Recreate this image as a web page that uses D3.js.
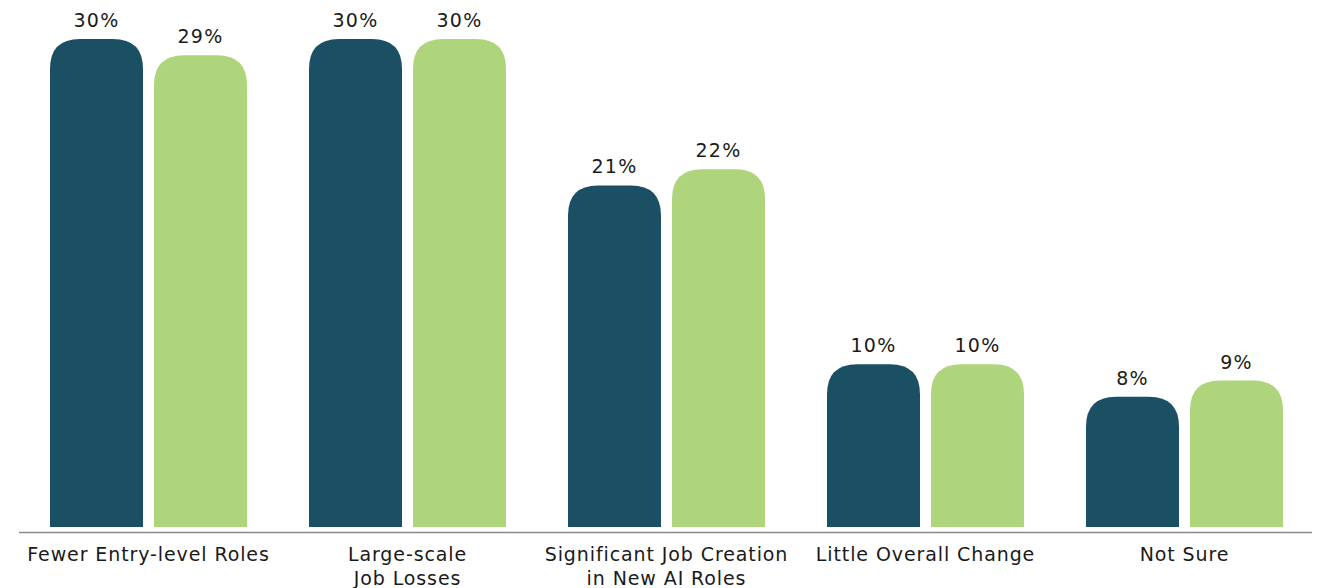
<!DOCTYPE html>
<html><head><meta charset="utf-8">
<script src="https://cdn.jsdelivr.net/npm/d3@7/dist/d3.min.js"></script>
<style>
html,body{margin:0;padding:0;background:#fff;}
svg{display:block;}
text{font-family:"DejaVu Sans",sans-serif;fill:#1a1a1a;}
</style></head>
<body>
<svg id="chart" width="1321" height="588"></svg>
<script>
const categories = ["Fewer Entry-level Roles", "Large-scale\nJob Losses", "Significant Job Creation\nin New AI Roles", "Little Overall Change", "Not Sure"];
const seriesNames = ["Series 1", "Series 2"];
const series1 = [30, 30, 21, 10, 8];
const series2 = [29, 30, 22, 10, 9];
const colors = ["#1b5064", "#aed47c"];

const svg = d3.select("#chart");
const x0 = d3.scaleBand().domain(categories).range([19, 1314]).paddingInner(0).paddingOuter(0);
const x1 = d3.scaleBand().domain(seriesNames).range([31, 228]).paddingInner(0.1058).paddingOuter(0);
const y = d3.scaleLinear().domain([0, 30]).range([527, 39]);

const data = categories.map((c, i) => ({cat: c, vals: [series1[i], series2[i]]}));

function roundedTop(x, yTop, w, yBot, r) {
  r = Math.min(r, w / 2, yBot - yTop);
  return `M${x},${yBot}V${yTop + r}Q${x},${yTop} ${x + r},${yTop}H${x + w - r}Q${x + w},${yTop} ${x + w},${yTop + r}V${yBot}Z`;
}

const g = svg.append("g");
const groups = g.selectAll("g.grp").data(data).join("g").attr("class", "grp")
  .attr("transform", d => `translate(${x0(d.cat)},0)`);

groups.selectAll("path").data(d => d.vals.map((v, j) => ({v, s: seriesNames[j], j})))
  .join("path")
  .attr("d", d => roundedTop(x1(d.s), y(d.v), x1.bandwidth(), y(0), 30))
  .attr("fill", d => colors[d.j]);

groups.selectAll("text.val").data(d => d.vals.map((v, j) => ({v, s: seriesNames[j]})))
  .join("text").attr("class", "val")
  .attr("x", d => x1(d.s) + x1.bandwidth() / 2)
  .attr("y", d => y(d.v) - 12)
  .attr("text-anchor", "middle")
  .style("font-size", "19px")
  .style("letter-spacing", "1.2px")
  .text(d => d.v + "%");

// axis
const axis = d3.axisBottom(x0).tickSize(0).tickPadding(0).tickFormat("");
const ax = svg.append("g").attr("transform", "translate(0,532.5)").call(axis);
ax.select(".domain").attr("stroke", "#8a8a8a").attr("stroke-width", 1.3).attr("d", "M19,0H1312");

ax.selectAll(".tick").each(function(d) {
  const t = d3.select(this).append("text")
    .attr("text-anchor", "middle")
    .attr("y", 28)
    .style("font-size", "19px")
    .style("letter-spacing", "0.9px");
  d.split("\n").forEach((line, i) => {
    t.append("tspan").attr("x", 0).attr("dy", i === 0 ? 0 : 24).text(line);
  });
});
</script>
</body></html>
